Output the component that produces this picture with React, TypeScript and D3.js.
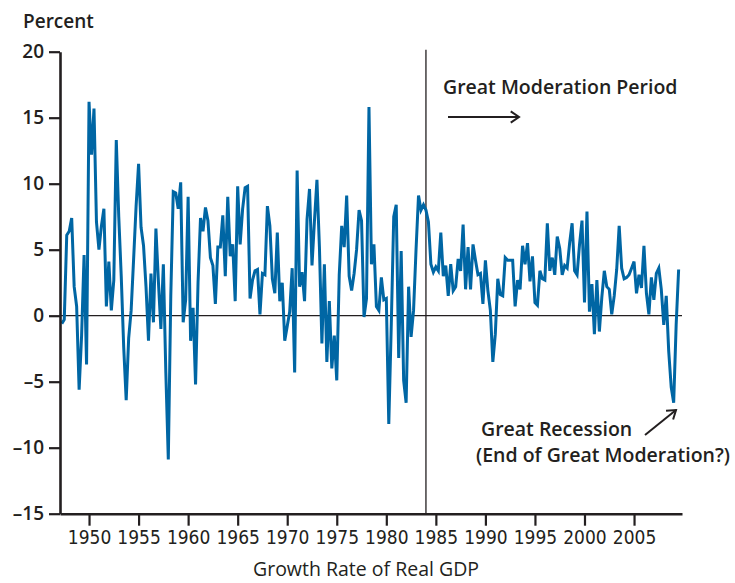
import React, { useEffect, useRef } from 'react';
import * as d3 from 'd3';

// Growth rate of real GDP, quarterly, annualized percent, 1947Q2 - 2009Q3
const firstYear = 1947;
const firstQuarter = 2;

const gdpGrowth = [
  -0.6, -0.3, 6.1, // 1947
  6.4, 7.4, 2.2, 0.7, // 1948
  -5.6, -1.5, 4.6, -3.7, // 1949
  16.2, 12.2, 15.7, 7.1, // 1950
  5.0, 6.8, 8.1, 0.7, // 1951
  4.1, 0.4, 2.7, 13.3, // 1952
  7.5, 3.0, -2.4, -6.4, // 1953
  -1.7, 0.4, 4.3, 8.3, // 1954
  11.5, 6.7, 5.3, 2.2, // 1955
  -1.9, 3.2, -0.5, 6.6, // 1956
  2.6, -1.0, 3.9, -4.3, // 1957
  -10.9, 1.5, 9.4, 9.3, // 1958
  8.1, 10.1, -0.5, 1.2, // 1959
  9.0, -1.9, 0.6, -5.2, // 1960
  2.5, 7.4, 6.4, 8.2, // 1961
  7.2, 4.4, 3.8, 0.9, // 1962
  5.2, 5.2, 7.6, 3.0, // 1963
  9.0, 4.5, 5.4, 1.1, // 1964
  9.8, 5.4, 8.1, 9.7, // 1965
  9.8, 1.3, 2.7, 3.4, // 1966
  3.5, 0.1, 3.2, 3.1, // 1967
  8.3, 6.8, 2.8, 1.7, // 1968
  6.3, 1.1, 2.5, -1.9, // 1969
  -0.8, 0.3, 3.6, -4.3, // 1970
  11.0, 2.2, 3.3, 1.1, // 1971
  7.3, 9.6, 3.8, 7.2, // 1972
  10.3, 5.2, -2.1, 3.9, // 1973
  -3.5, 1.1, -4.0, -1.5, // 1974
  -4.9, 3.1, 6.8, 5.2, // 1975
  9.1, 3.0, 1.9, 3.2, // 1976
  5.0, 8.0, 7.2, -0.1, // 1977
  1.3, 15.8, 3.9, 5.4, // 1978
  0.7, 0.4, 2.9, 1.2, // 1979
  1.3, -8.2, -0.7, 7.5, // 1980
  8.4, -3.2, 4.9, -4.9, // 1981
  -6.6, 2.2, -1.6, 0.4, // 1982
  5.0, 9.1, 8.0, 8.4, // 1983
  8.0, 7.1, 3.9, 3.3, // 1984
  3.7, 3.4, 6.3, 3.0, // 1985
  3.8, 1.5, 3.9, 1.9, // 1986
  2.2, 4.3, 3.4, 6.9, // 1987
  2.0, 5.2, 2.0, 5.4, // 1988
  4.2, 3.1, 3.2, 0.9, // 1989
  4.2, 1.9, 0.4, -3.5, // 1990
  -1.4, 2.8, 1.6, 1.5, // 1991
  4.4, 4.2, 4.2, 4.2, // 1992
  0.7, 2.7, 2.0, 5.3, // 1993
  3.9, 5.5, 2.6, 4.5, // 1994
  1.0, 0.8, 3.4, 2.8, // 1995
  2.7, 7.0, 3.4, 4.4, // 1996
  3.1, 6.0, 5.1, 3.1, // 1997
  3.8, 3.6, 5.5, 7.0, // 1998
  3.4, 3.1, 5.4, 7.2, // 1999
  1.0, 7.9, 0.3, 2.4, // 2000
  -1.4, 2.7, -1.2, 1.4, // 2001
  3.4, 2.2, 2.0, 0.1, // 2002
  1.5, 3.5, 6.8, 3.6, // 2003
  2.8, 2.9, 3.1, 3.6, // 2004
  4.1, 1.7, 3.1, 2.1, // 2005
  5.3, 1.7, 0.1, 2.9, // 2006
  1.2, 3.2, 3.6, 2.0, // 2007
  -0.7, 1.5, -2.7, -5.4, // 2008
  -6.6, -0.7, 3.5, // 2009
];

const yearTicks = [1950, 1955, 1960, 1965, 1970, 1975, 1980, 1985, 1990, 1995, 2000, 2005];
const percentTicks = [-15, -10, -5, 0, 5, 10, 15, 20];
const moderationStart = 1984;

const ink = '#231f20';
const blue = '#0066a4';
const labelFont = "'Open Sans', 'Noto Sans', sans-serif";
const yearFont = "'Liberation Sans Narrow', 'DejaVu Sans Condensed', 'Open Sans', sans-serif";

const GdpChart = () => {
  const ref = useRef<SVGSVGElement>(null);

  useEffect(() => {
    const svg = d3.select(ref.current);
    svg.selectAll('*').remove();

    const x = d3.scaleLinear().domain([1947.07, 2009.84]).range([60, 682]);
    const y = d3.scaleLinear().domain([-15, 20]).range([513.7, 51.7]);

    const points = gdpGrowth.map((v, i) => ({
      t: firstYear + (firstQuarter - 1 + i) / 4,
      v,
    }));

    // zero line
    svg.append('line')
      .attr('x1', x.range()[0]).attr('x2', x.range()[1])
      .attr('y1', y(0)).attr('y2', y(0))
      .attr('stroke', ink).attr('stroke-width', 1.3);

    // start of great moderation
    svg.append('line')
      .attr('x1', x(moderationStart)).attr('x2', x(moderationStart))
      .attr('y1', y(20) - 2).attr('y2', y(-15))
      .attr('stroke', ink).attr('stroke-width', 1.3);

    const line = d3.line<{ t: number; v: number }>()
      .x(d => x(d.t))
      .y(d => y(d.v));

    svg.append('path')
      .datum(points)
      .attr('fill', 'none')
      .attr('stroke', blue)
      .attr('stroke-width', 3)
      .attr('stroke-linejoin', 'miter')
      .attr('d', line);

    // axes
    const yAxis = svg.append('g')
      .attr('transform', `translate(${x.range()[0]},0)`)
      .call(
        d3.axisLeft(y)
          .tickValues(percentTicks)
          .tickSize(11)
          .tickSizeOuter(0)
          .tickPadding(5)
          .tickFormat(d => (+d < 0 ? '\u2013' + Math.abs(+d) : String(d)))
      );
    yAxis.select('.domain').attr('stroke', ink).attr('stroke-width', 2.6);
    yAxis.selectAll('.tick line').attr('stroke', ink).attr('stroke-width', 2.2);
    yAxis.selectAll('.tick text')
      .attr('fill', ink)
      .style('font-family', labelFont)
      .style('font-weight', 600)
      .style('font-size', '19px');

    const xAxis = svg.append('g')
      .attr('transform', `translate(0,${y.range()[0]})`)
      .call(
        d3.axisBottom(x)
          .tickValues(yearTicks)
          .tickSize(12)
          .tickSizeOuter(0)
          .tickPadding(5)
          .tickFormat(d3.format('d'))
      );
    xAxis.select('.domain').attr('stroke', ink).attr('stroke-width', 2.6);
    xAxis.selectAll('.tick line').attr('stroke', ink).attr('stroke-width', 2.2);
    xAxis.selectAll('.tick text')
      .attr('fill', ink)
      .style('font-family', yearFont)
      .style('font-size', '19px');

    // titles
    svg.append('text')
      .attr('x', 23).attr('y', 28)
      .attr('fill', ink)
      .style('font-family', labelFont).style('font-weight', 600).style('font-size', '19px')
      .text('Percent');

    svg.append('text')
      .attr('x', 366).attr('y', 576)
      .attr('text-anchor', 'middle')
      .attr('fill', ink)
      .style('font-family', labelFont).style('font-size', '19.5px')
      .text('Growth Rate of Real GDP');

    // annotations
    const note = (tx: number, ty: number, s: string) =>
      svg.append('text')
        .attr('x', tx).attr('y', ty)
        .attr('fill', ink)
        .style('font-family', labelFont).style('font-weight', 600).style('font-size', '19.5px')
        .text(s);

    note(443, 94, 'Great Moderation Period');
    note(481, 436, 'Great Recession');
    note(476, 462, '(End of Great Moderation?)');

    const arrow = (x1: number, y1: number, x2: number, y2: number) => {
      const a = Math.atan2(y2 - y1, x2 - x1);
      const h = 10;
      const w = 0.6;
      svg.append('line')
        .attr('x1', x1).attr('y1', y1).attr('x2', x2).attr('y2', y2)
        .attr('stroke', ink).attr('stroke-width', 2);
      svg.append('polyline')
        .attr('points', [
          [x2 - h * Math.cos(a - w), y2 - h * Math.sin(a - w)],
          [x2, y2],
          [x2 - h * Math.cos(a + w), y2 - h * Math.sin(a + w)],
        ].map(p => p.join(',')).join(' '))
        .attr('fill', 'none')
        .attr('stroke', ink)
        .attr('stroke-width', 2);
    };

    arrow(448, 117, 519, 117);
    arrow(645, 435, 676, 410);
  }, []);

  return (
    <svg
      ref={ref}
      width={735}
      height={583}
      style={{ position: 'absolute', left: 0, top: 0, background: '#fff' }}
    />
  );
};

export default function App() {
  return <GdpChart />;
}
